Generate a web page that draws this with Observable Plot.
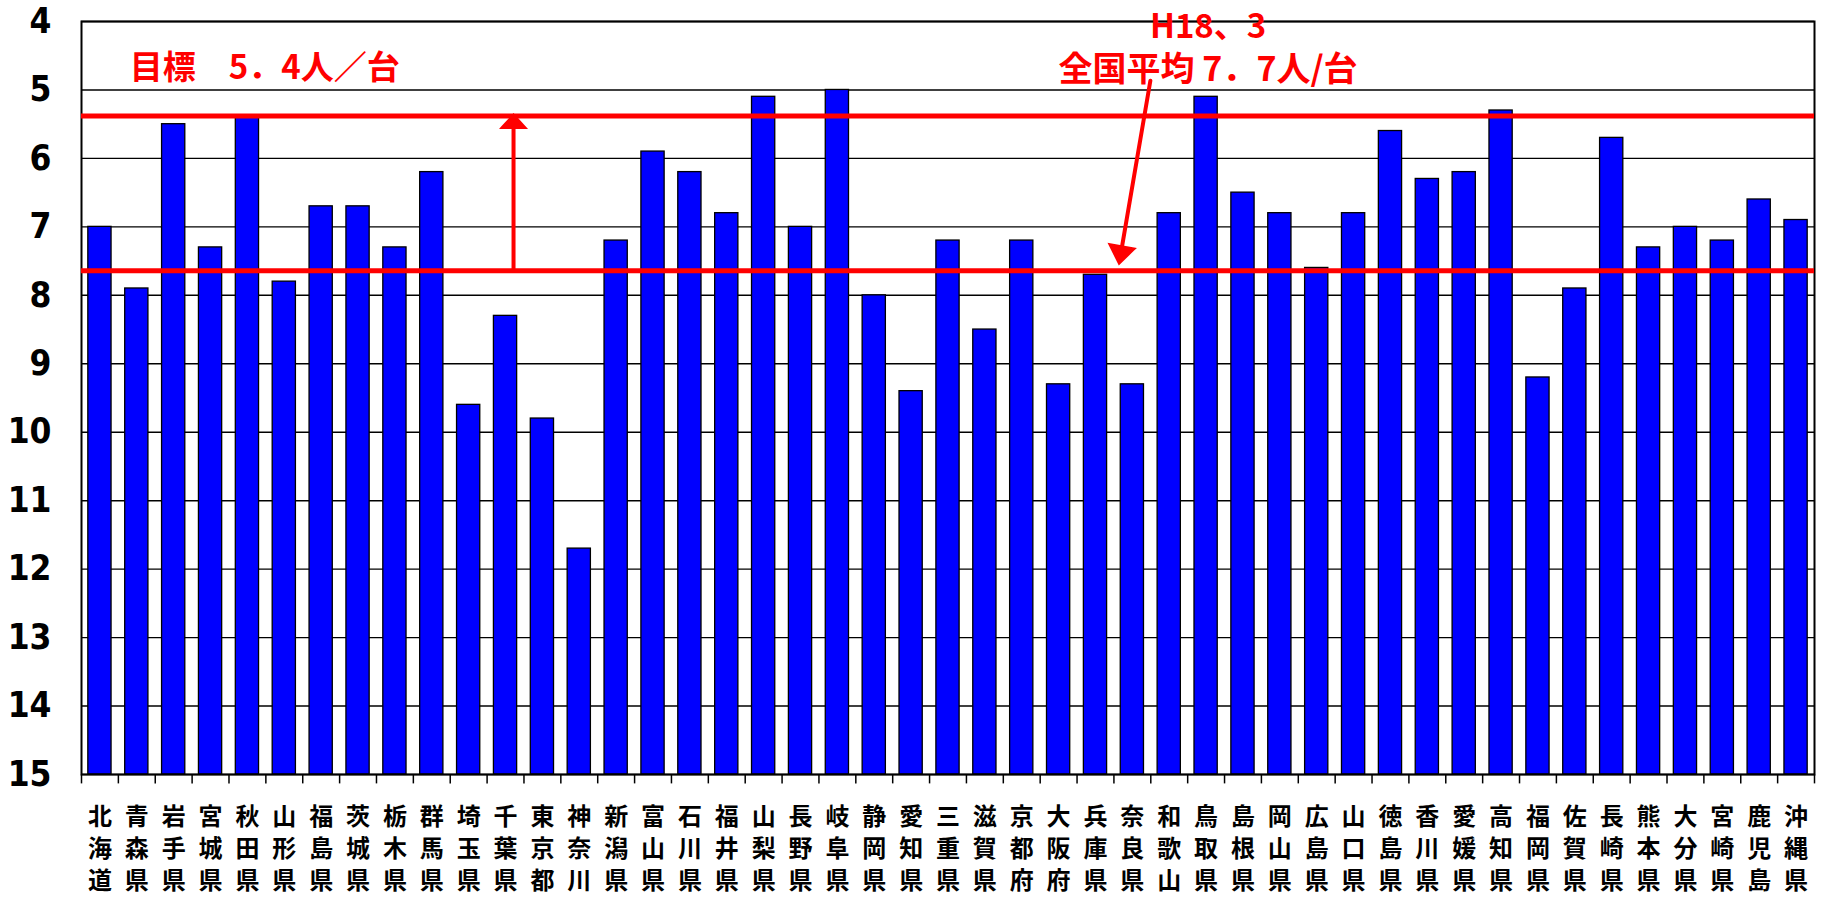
<!DOCTYPE html>
<html>
<head>
<meta charset="utf-8">
<script src="https://cdn.jsdelivr.net/npm/d3@7"></script>
<script src="https://cdn.jsdelivr.net/npm/@observablehq/plot@0.6"></script>
<style>
  html, body { margin: 0; padding: 0; background: #fff; overflow: hidden; }
  #chart svg { display: block; }
</style>
</head>
<body>
<div id="chart"></div>
<script>
// Prefectures (x categories)
const prefs = ["北海道","青森県","岩手県","宮城県","秋田県","山形県","福島県","茨城県","栃木県","群馬県",
  "埼玉県","千葉県","東京都","神奈川","新潟県","富山県","石川県","福井県","山梨県","長野県",
  "岐阜県","静岡県","愛知県","三重県","滋賀県","京都府","大阪府","兵庫県","奈良県","和歌山",
  "鳥取県","島根県","岡山県","広島県","山口県","徳島県","香川県","愛媛県","高知県","福岡県",
  "佐賀県","長崎県","熊本県","大分県","宮崎県","鹿児島","沖縄県"];
// Persons per vehicle
const values = [7.0,7.9,5.5,7.3,5.4,7.8,6.7,6.7,7.3,6.2,
  9.6,8.3,9.8,11.7,7.2,5.9,6.2,6.8,5.1,7.0,
  5.0,8.0,9.4,7.2,8.5,7.2,9.3,7.7,9.3,6.8,
  5.1,6.5,6.8,7.6,6.8,5.6,6.3,6.2,5.3,9.2,
  7.9,5.7,7.3,7.0,7.2,6.6,6.9];
// y-axis ticks (inverted axis, 4 at top, 15 at bottom)
const yTicks = [4,5,6,7,8,9,10,11,12,13,14,15];
// reference lines (as drawn in the picture)
const goalLine = 5.38;      // 目標 5.4
const avgLine = 7.64;       // 全国平均 7.7
// annotation texts
const goalLabel = "目標　5．4人／台";
const avgLabel1 = "H18、3";
const avgLabel2 = "全国平均 7．7人/台";

const data = prefs.map((p, i) => ({pref: p, value: values[i]}));

const W = 1829, H = 897;
const mL = 81, mR = 15, mT = 21, mB = 123;
const step = (W - mL - mR) / prefs.length;
const red = "#FF0000";
const cjk = "'Noto Sans CJK JP', 'Noto Sans CJK SC', sans-serif";
const narrow = "'Liberation Sans Narrow', 'DejaVu Sans Condensed', 'Liberation Sans', sans-serif";
const yBase = yTicks[yTicks.length - 1];
const tickLen = 0.13; // outward tick length in y units (~9px)
const boundaries = [...prefs.map(p => ({pref: p, side: -1})), {pref: prefs[prefs.length - 1], side: 1}];

function arrowShape(hw, hh) {
  return {
    draw(context, l) {
      context.moveTo(0, 0);
      context.lineTo(0, -l + hh);
      context.moveTo(-hw, -l + hh);
      context.lineTo(0, -l);
      context.lineTo(hw, -l + hh);
      context.closePath();
    }
  };
}

const chart = Plot.plot({
  width: W, height: H,
  marginLeft: mL, marginRight: mR, marginTop: mT, marginBottom: mB,
  x: {domain: prefs, paddingInner: 0.37, paddingOuter: 0.185, axis: null, label: null},
  y: {domain: [yTicks[0], yBase], reverse: true, axis: null, label: null},
  marks: [
    Plot.gridY(yTicks, {stroke: "#000", strokeOpacity: 1, strokeWidth: 1.4}),
    Plot.barY(data, {x: "pref", y1: yBase, y2: "value", fill: "#0000FF", stroke: "#000", strokeWidth: 1.3}),
    Plot.frame({stroke: "#000", strokeWidth: 2}),
    Plot.axisY(yTicks, {label: null, tickSize: 0, tickPadding: 30, tickFormat: d => String(d),
      fontSize: 35, fontWeight: "bold", fontFamily: narrow, fill: "#000"}),
    // category-boundary ticks below the plot
    Plot.link(boundaries.filter(d => d.side < 0), {x1: "pref", x2: "pref", y1: () => yBase, y2: () => yBase + tickLen,
      dx: -step / 2, stroke: "#000", strokeWidth: 1.5}),
    Plot.link(boundaries.filter(d => d.side > 0), {x1: "pref", x2: "pref", y1: () => yBase, y2: () => yBase + tickLen,
      dx: step / 2, stroke: "#000", strokeWidth: 1.5}),
    Plot.axisX({label: null, tickSize: 0, tickPadding: 27, fontSize: 24, fontWeight: "bold", fontFamily: cjk, fill: "#000",
      lineHeight: 1.35, tickFormat: d => Array.from(d).join("\n")}),
    Plot.ruleY([goalLine, avgLine], {stroke: red, strokeWidth: 5}),
    Plot.vector([0], {x: () => "千葉県", y: () => goalLine, anchor: "end", rotate: 0, length: 153, dx: 8,
      shape: arrowShape(10, 11), stroke: red, fill: red, strokeWidth: 4, strokeLinejoin: "miter"}),
    Plot.vector([0], {x: () => "奈良県", y: () => 7.515, anchor: "end", rotate: 189.7, length: 184, dx: -13,
      shape: arrowShape(11, 15), stroke: red, fill: red, strokeWidth: 4, strokeLinejoin: "miter"}),
    Plot.text([goalLabel], {x: () => "青森県", y: () => 4.69, text: d => d, textAnchor: "start", dx: -7,
      fontSize: 33, fontWeight: "bold", fontFamily: cjk, fill: red}),
    Plot.text([avgLabel1], {x: () => "鳥取県", y: () => 4.09, text: d => d, dx: 2,
      fontSize: 33, fontWeight: "bold", fontFamily: cjk, fill: red}),
    Plot.text([avgLabel2], {x: () => "鳥取県", y: () => 4.71, text: d => d, dx: 2,
      fontSize: 34, fontWeight: "bold", fontFamily: cjk, fill: red})
  ]
});
document.getElementById("chart").appendChild(chart);
</script>
</body>
</html>
